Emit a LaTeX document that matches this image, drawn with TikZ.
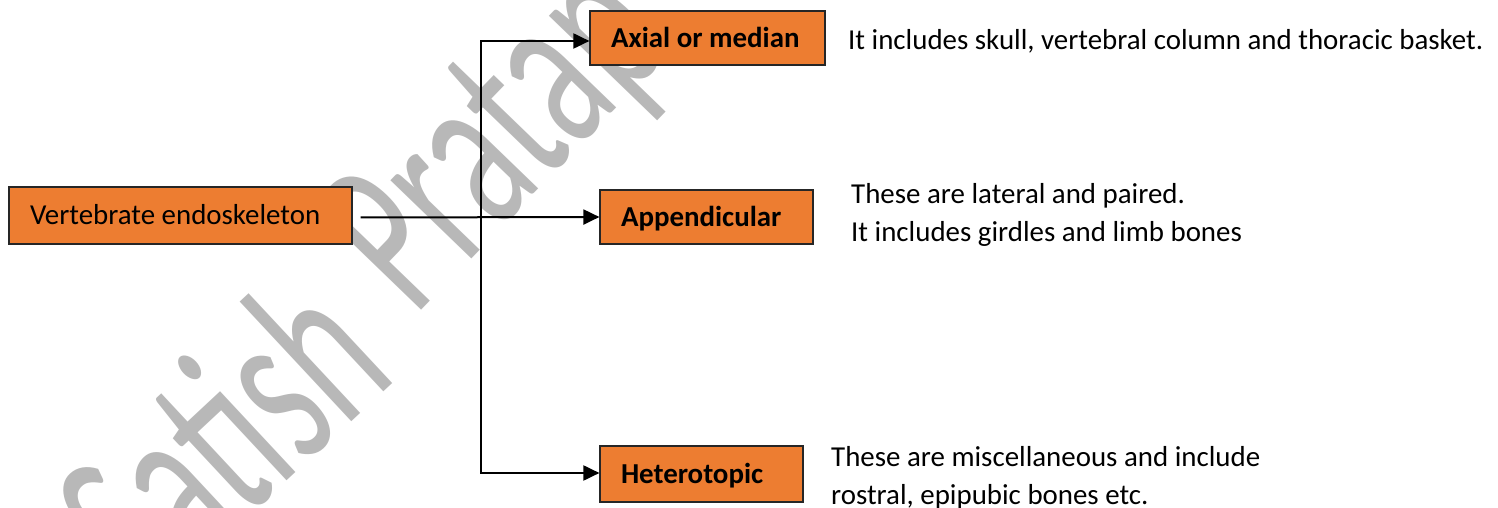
\documentclass[tikz,border=0pt]{standalone}
\usepackage{fontspec}
\setmainfont{Carlito}
\usetikzlibrary{arrows.meta}
\definecolor{boxorange}{HTML}{ED7D31}
\definecolor{wmgray}{RGB}{184,184,184}
\newcommand\diagfont{\fontsize{28.9}{38.5}\selectfont}
\begin{document}
\begin{tikzpicture}[x=1pt,y=1pt,
  box/.style={draw=black!85, line width=1.2pt, fill=boxorange, inner xsep=21pt, inner ysep=0pt,
    text height=18.4pt, text depth=0pt, font=\diagfont},
  boldbox/.style={box, font=\diagfont\bfseries},
  desc/.style={inner sep=0pt, anchor=base west, align=left, font=\diagfont},
  conn/.style={line width=2pt, black},
  tip/.style={-{Triangle[length=16pt,width=15pt]}},
  wm/.style={inner sep=0pt, text=wmgray, font=\fontsize{142}{142}\selectfont, rotate=#1, yscale=1.66, anchor=base west}]
\useasboundingbox (0,0) rectangle (1498,508);
% watermark
\node[wm=43] (wmone) at (149,-102) {Satish};
\node[wm=46] (wmtwo) at (414,190) {Pratap};
% boxes
\node[box, minimum height=57pt] (vert) at (180.5,292.5) {\makebox[301pt][l]{Vertebrate endoskeleton}};
\node[boldbox, minimum height=54pt] (axial) at (707.5,470) {\makebox[193pt][l]{Axial or median}};
\node[boldbox, minimum height=54pt] (app) at (706.5,291) {\makebox[171pt][l]{Appendicular}};
\node[boldbox, minimum height=56pt] (het) at (701.5,34) {\makebox[161pt][l]{Heterotopic}};
% descriptions
\node[desc] (axd) at (848,458) {It includes skull, vertebral column and thoracic basket.};
\node[desc] (appd) at (851,266.3) {These are lateral and paired.\\It includes girdles and limb bones};
\node[desc] (hetd) at (831,3) {These are miscellaneous and include\\rostral, epipubic bones etc.};
% connectors
\coordinate (trunktop) at (481,467);
\coordinate (trunkbot) at (481,35);
\draw[conn, tip] ([xshift=8pt,yshift=-2pt]vert.east) -- (app.west);
\draw[conn, {Triangle[length=16pt,width=15pt]}-{Triangle[length=16pt,width=15pt]}]
  (trunktop -| axial.west) -- (trunktop) -- (trunkbot) -- (trunkbot -| het.west);
\end{tikzpicture}
\end{document}
